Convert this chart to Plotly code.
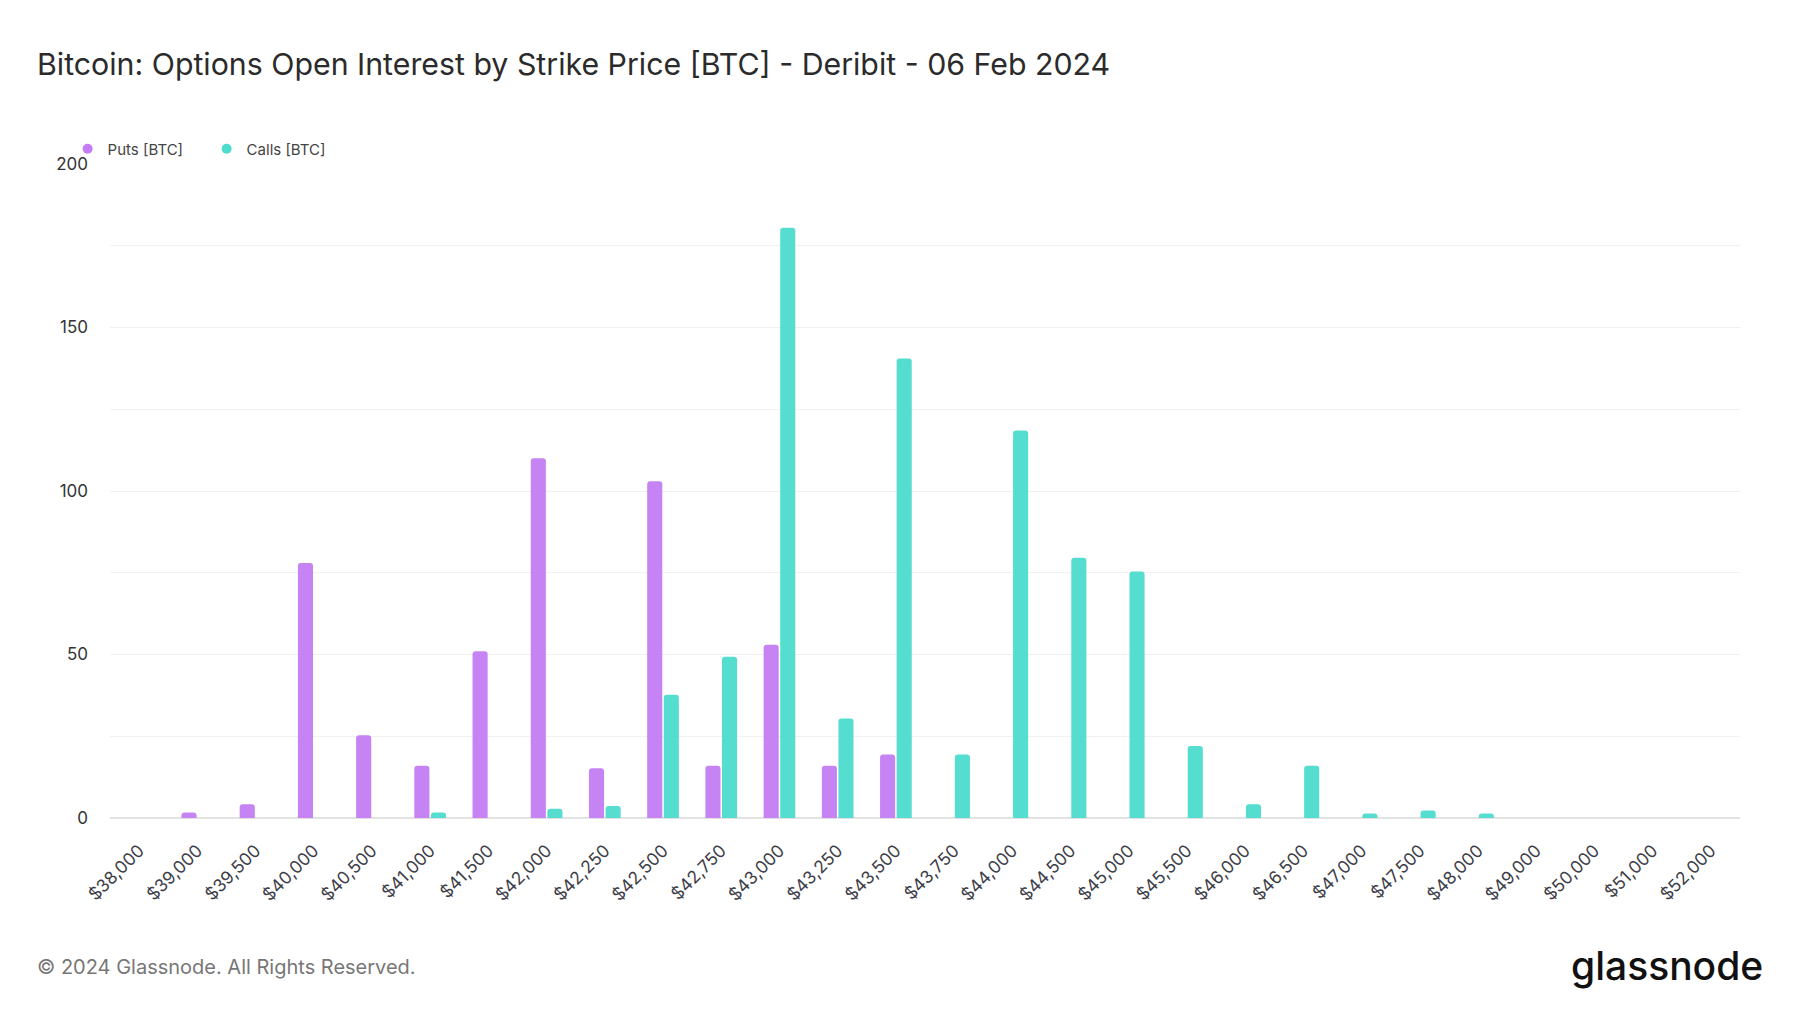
import plotly.graph_objects as go

strikes = ["$38,000", "$39,000", "$39,500", "$40,000", "$40,500", "$41,000", "$41,500",
           "$42,000", "$42,250", "$42,500", "$42,750", "$43,000", "$43,250", "$43,500",
           "$43,750", "$44,000", "$44,500", "$45,000", "$45,500", "$46,000", "$46,500",
           "$47,000", "$47,500", "$48,000", "$49,000", "$50,000", "$51,000", "$52,000"]
puts = [0, 1.7, 4.2, 78, 25.3, 16, 51, 110, 15.2, 103, 16, 53, 16, 19.4,
        0, 0, 0, 0, 0, 0, 0, 0, 0, 0, 0, 0, 0, 0]
calls = [0, 0, 0, 0, 0, 1.7, 0, 2.8, 3.7, 37.7, 49.3, 180.5, 30.4, 140.5,
         19.4, 118.5, 79.6, 75.4, 22, 4.2, 16, 1.4, 2.3, 1.4, 0, 0, 0, 0]
y_ticks = [0, 50, 100, 150, 200]

PUT_C = "#c47df4"
CALL_C = "#4cdccd"
FONT = "Inter"

fig = go.Figure()
fig.add_trace(go.Bar(x=strikes, y=puts, name="Puts [BTC]", marker=dict(color=PUT_C, cornerradius=3, line=dict(width=0)),
                     opacity=0.95, showlegend=False))
fig.add_trace(go.Bar(x=strikes, y=calls, name="Calls [BTC]", marker=dict(color=CALL_C, cornerradius=3, line=dict(width=0)),
                     opacity=0.95, showlegend=False))
# legend entries with round markers
fig.add_trace(go.Scatter(x=[None], y=[None], mode="markers", name="Puts [BTC]",
                         marker=dict(color=PUT_C, size=10, symbol="circle")))
fig.add_trace(go.Scatter(x=[None], y=[None], mode="markers", name="Calls [BTC]",
                         marker=dict(color=CALL_C, size=10, symbol="circle")))

fig.update_layout(
    width=1800, height=1013,
    margin=dict(l=110, r=60, t=164, b=194.5, autoexpand=False),
    paper_bgcolor="white", plot_bgcolor="white",
    font=dict(family=FONT, color="#333333"),
    barmode="group", bargap=0.43, bargroupgap=0.09,
    title=dict(text="Bitcoin: Options Open Interest by Strike Price [BTC] - Deribit - 06 Feb 2024",
               x=37 / 1800, xref="container", xanchor="left", y=1 - 64 / 1013, yref="container",
               yanchor="middle",
               font=dict(family=FONT, size=30.3, color="#2b2b2b")),
    legend=dict(orientation="h", x=-0.026, xanchor="left", y=1.023, yanchor="middle",
                font=dict(family=FONT, size=15, color="#444444"), itemwidth=30,
                entrywidth=94, bgcolor="rgba(0,0,0,0)", traceorder="normal"),
    xaxis=dict(type="category", tickangle=-45, showgrid=False, zeroline=False,
               showline=False, ticks="", tickfont=dict(family=FONT, size=17.5, color="#3d3d48"),
               ticklabelstandoff=18),
    yaxis=dict(range=[0, 200], tickvals=y_ticks, showgrid=True, gridcolor="#f0f0f0", gridwidth=1,
               zeroline=True, zerolinecolor="#e3e3e3", zerolinewidth=2,
               minor=dict(dtick=25, showgrid=True, gridcolor="#f2f2f2", gridwidth=1),
               tickfont=dict(family=FONT, size=17, color="#333333"), ticklabelstandoff=21,
               showline=False, fixedrange=True),
)

fig.add_annotation(text="© 2024 Glassnode. All Rights Reserved.", xref="paper", yref="paper",
                   x=-75 / 1630, xanchor="left", y=-(968 - 818.5) / 654.5, yanchor="middle",
                   showarrow=False, font=dict(family=FONT, size=20, color="#777777"))
fig.add_annotation(text="glassnode", xref="paper", yref="paper",
                   x=(1765 - 110) / 1630, xanchor="right", y=-(966 - 818.5) / 654.5, yanchor="middle",
                   showarrow=False, font=dict(family=FONT, size=39, color="#111111", weight=500))

fig.write_html("out.html")
